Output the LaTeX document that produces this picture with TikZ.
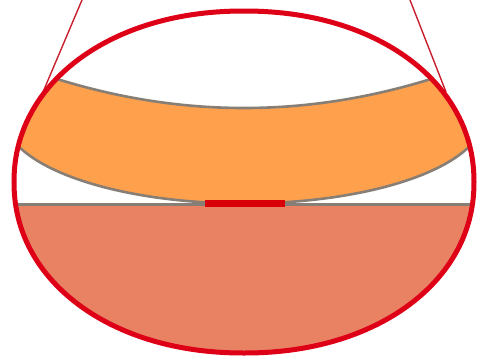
\documentclass[tikz,border=0pt]{standalone}
\begin{document}
\begin{tikzpicture}[x=1pt,y=-1pt,
  rimline/.style={draw=rimred,line width=5pt},
  conic/.style={draw=conered,line width=1.4pt},
  edgegray/.style={draw=grayedge,line width=2.6pt},
  contact/.style={draw=contactred,line width=7pt}]
\definecolor{rimred}{RGB}{222,0,22}
\definecolor{conered}{RGB}{200,30,45}
\definecolor{contactred}{RGB}{218,0,8}
\definecolor{bandorange}{RGB}{255,160,76}
\definecolor{lowfill}{RGB}{232,130,98}
\definecolor{grayedge}{RGB}{135,126,118}
\useasboundingbox (0,0) rectangle (482,360);
\def\outline{plot[domain=0:360,samples=241,variable=\t] ({244+230*cos(\t)*pow(abs(cos(\t))+0.0001,-0.045)},{182+171*sin(\t)*pow(abs(sin(\t))+0.0001,-0.045)}) -- cycle}
% cone lines
\coordinate (lt) at (82,0);
\coordinate (lb) at (43,92);
\coordinate (rt) at (410,0);
\coordinate (rb) at (446,92);
\draw[conic] (lt) -- (lb);
\draw[conic] (rt) -- (rb);
% band and lower region
\begin{scope}
  \clip \outline;
  \fill[bandorange] plot[domain=4:484,samples=120,variable=\x] ({\x},{108-8.3*((\x-244)/100)^2})
     -- plot[domain=4:484,samples=160,variable=\x] ({488-\x},{116.5+87*sqrt(max(0,1-((244-\x)/240)^2))}) -- cycle;
  \draw[edgegray] plot[domain=4:484,samples=120,variable=\x] ({\x},{108-8.3*((\x-244)/100)^2});
  \draw[edgegray] plot[domain=4:484,samples=160,variable=\x] ({\x},{116.5+87*sqrt(max(0,1-((\x-244)/240)^2))});
  \fill[lowfill] (0,204.5) rectangle (488,365);
  \draw[edgegray] (0,204.5) -- (488,204.5);
\end{scope}
\draw[rimline] \outline;
\coordinate (ca) at (205,203.5);
\coordinate (cb) at (285,203.5);
\draw[contact] (ca) -- (cb);
\end{tikzpicture}
\end{document}
